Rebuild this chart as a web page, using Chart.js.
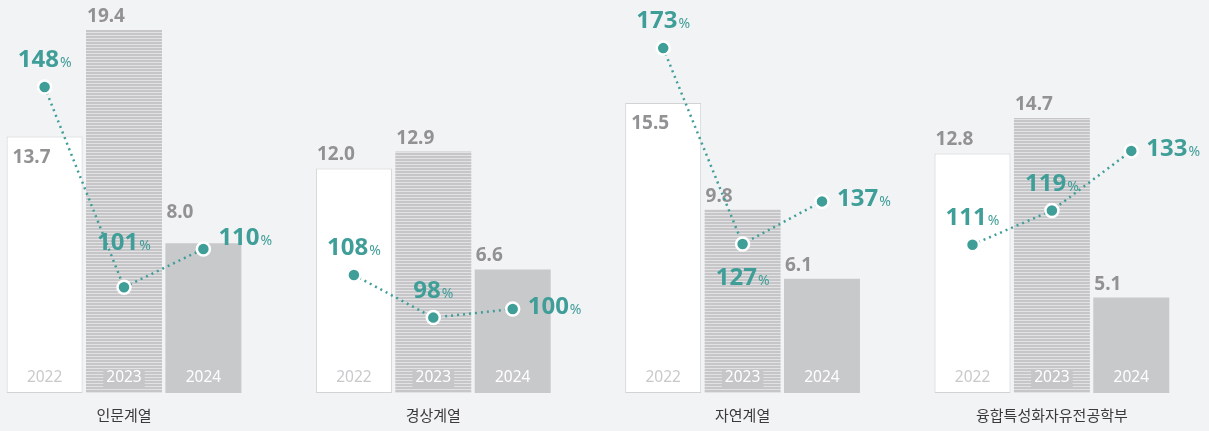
<!DOCTYPE html>
<html lang="ko">
<head>
<meta charset="utf-8">
<title>계열별 경쟁률</title>
<script src="https://cdn.jsdelivr.net/npm/chart.js@4.4.1/dist/chart.umd.min.js"></script>
<style>
  html, body { margin: 0; padding: 0; background: #f2f3f5; }
  #wrap { width: 1209px; height: 431px; }
</style>
</head>
<body>
<div id="wrap"><canvas id="grafico" width="1209" height="431"></canvas></div>
<script>
// datos
const grupos = ["인문계열", "경상계열", "자연계열", "융합특성화자유전공학부"];
const anios = ["2022", "2023", "2024"];
const valores2022 = [13.7, 12.0, 15.5, 12.8];
const valores2023 = [19.4, 12.9, 9.8, 14.7];
const valores2024 = [8.0, 6.6, 6.1, 5.1];
const pct2022 = [148, 108, 173, 111];
const pct2023 = [101, 98, 127, 119];
const pct2024 = [110, 100, 137, 133];

const teal = "#409e98";
const catPct = 0.77;
const paso = catPct / 3; // distancia entre barras de un grupo, en unidades del eje x
// cada grupo tiene su propio eje de porcentaje (como en el original)
const ejesPct = ["p1", "p2", "p3", "p1"];

// relleno rayado para 2023
function rayas() {
    const c = document.createElement("canvas");
    c.width = 4;
    c.height = 3;
    const g = c.getContext("2d");
    g.fillStyle = "#c6c6c8";
    g.fillRect(0, 0, 4, 2);
    g.fillStyle = "#e2e2e4";
    g.fillRect(0, 2, 4, 1);
    return g.createPattern(c, "repeat");
}

const etiquetas = {
    id: "etiquetas",
    afterDatasetDraw(chart, args, opts) {
        const meta = args.meta;
        if (meta.type !== "bar") return;
        const ctx = chart.ctx;
        const yi = args.index;
        const valores = chart.data.datasets[yi].data;
        ctx.save();
        meta.data.forEach((bar, gi) => {
            const left = bar.x - bar.width / 2;
            // año dentro de la barra
            ctx.font = "15.5px 'Noto Sans'";
            ctx.textAlign = "center";
            ctx.textBaseline = "middle";
            if (yi === 1) {
                const w = ctx.measureText(anios[yi]).width + 6;
                ctx.fillStyle = "#c6c6c8";
                ctx.fillRect(bar.x - w / 2, bar.base - 24, w, 18);
            }
            ctx.fillStyle = yi === 0 ? "#c9c9cb" : "#ffffff";
            ctx.fillText(anios[yi], bar.x, bar.base - 15);
            // valor
            const pos = opts.valuePos[gi][yi];
            ctx.font = "bold 19px 'Noto Sans'";
            ctx.textAlign = "left";
            ctx.textBaseline = "alphabetic";
            ctx.fillStyle = "#929294";
            const v = valores[gi].y.toFixed(1);
            if (pos === "in") ctx.fillText(v, left + 6, bar.y + 26);
            else if (pos === "high") ctx.fillText(v, left + 1, bar.y - 25);
            else ctx.fillText(v, left + 1, bar.y - 8);
        });
        ctx.restore();
    },
    afterDatasetsDraw(chart, args, opts) {
        const ctx = chart.ctx;
        ctx.save();
        chart.data.datasets.forEach((ds, di) => {
            if (ds.type !== "line") return;
            const gi = di - 3;
            const meta = chart.getDatasetMeta(di);
            meta.data.forEach((p, yi) => {
                const num = String(ds.data[yi].y);
                ctx.font = "bold 24px 'Noto Sans'";
                const wn = ctx.measureText(num).width;
                ctx.font = "14px 'Noto Sans'";
                const wp = ctx.measureText("%").width;
                const total = wn + 1 + wp;
                const pos = opts.pctPos[gi][yi];
                let x = p.x - total / 2;
                let y = p.y - 20;
                if (pos === "high") y = p.y - 37;
                if (pos === "bottom") y = p.y + 41;
                if (pos === "right") { x = p.x + 15; y = p.y + 5; }
                if (pos === "rightHigh") { x = p.x + 15; y = p.y - 4; }
                ctx.textAlign = "left";
                ctx.textBaseline = "alphabetic";
                ctx.fillStyle = teal;
                ctx.font = "bold 24px 'Noto Sans'";
                ctx.fillText(num, x, y);
                ctx.font = "14px 'Noto Sans'";
                ctx.fillText("%", x + wn + 1, y);
            });
        });
        // nombres de los grupos
        const xs = chart.scales.x;
        ctx.font = "15px 'Noto Sans CJK KR'";
        ctx.textAlign = "center";
        ctx.textBaseline = "middle";
        ctx.fillStyle = "#3a3a3a";
        grupos.forEach((g, gi) => ctx.fillText(g, xs.getPixelForValue(gi), chart.chartArea.bottom + 22));
        ctx.restore();
    },
};

const barras = [valores2022, valores2023, valores2024].map((vals, yi) => ({
    type: "bar",
    label: anios[yi],
    data: vals.map((v, gi) => ({ x: gi, y: v })),
    backgroundColor: yi === 0 ? "#ffffff" : yi === 1 ? rayas() : "#c8c9cb",
    borderColor: "#d3d3d5",
    borderWidth: yi === 0 ? 1 : 0,
    borderSkipped: false,
    categoryPercentage: catPct,
    barPercentage: 0.957,
    yAxisID: "y",
    order: 2,
}));

const lineas = grupos.map((g, gi) => ({
    type: "line",
    label: g,
    data: [pct2022[gi], pct2023[gi], pct2024[gi]].map((v, yi) => ({ x: gi + (yi - 1) * paso, y: v })),
    yAxisID: ejesPct[gi],
    borderColor: teal,
    borderWidth: 2.5,
    borderDash: [2, 4],
    pointRadius: 6.5,
    pointBackgroundColor: teal,
    pointBorderColor: "#ffffff",
    pointBorderWidth: 2.5,
    fill: false,
    tension: 0,
    order: 1,
}));

new Chart(document.getElementById("grafico"), {
    data: { datasets: [...barras, ...lineas] },
    options: {
        responsive: false,
        animation: false,
        layout: { padding: { bottom: 38 }, autoPadding: false },
        scales: {
            x: {
                type: "linear",
                display: false,
                offset: false,
                min: -0.4009,
                max: 3.5079,
                afterBuildTicks: (s) => { s.ticks = grupos.map((g, i) => ({ value: i })); },
            },
            y: { display: false, min: 0, max: 21 },
            p1: { display: false, min: 76.2, max: 168.4 },
            p2: { display: false, min: 80.3, max: 172.55 },
            p3: { display: false, min: 92.0, max: 184.3 },
        },
        plugins: {
            legend: { display: false },
            tooltip: { enabled: false },
            etiquetas: {
                valuePos: [["in", "top", "high"], ["top", "top", "top"], ["in", "top", "top"], ["top", "top", "top"]],
                pctPos: [["top", "high", "rightHigh"], ["top", "top", "right"], ["top", "bottom", "right"], ["top", "top", "right"]],
            },
        },
    },
    plugins: [etiquetas],
});
</script>
</body>
</html>
